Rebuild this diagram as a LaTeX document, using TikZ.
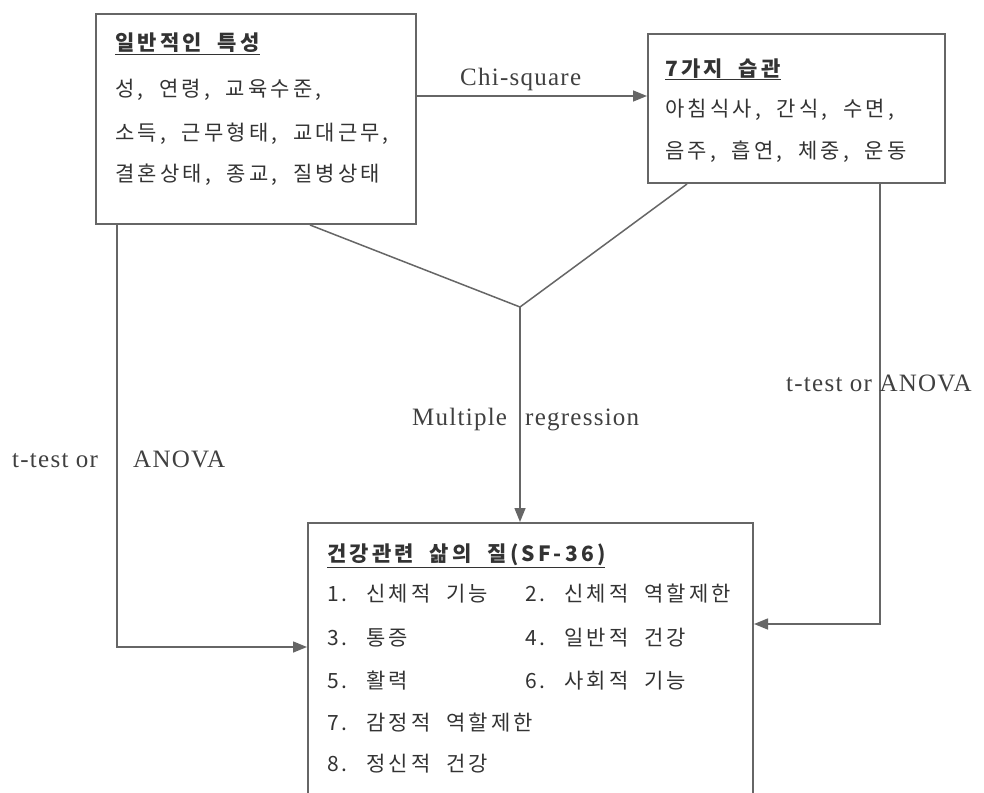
\documentclass[tikz,border=0pt]{standalone}
\usepackage{fontspec}
\setmainfont{Liberation Serif}[LetterSpace=5]
\newfontfamily\kr{Noto Sans CJK KR}[LetterSpace=15,WordSpace=2]
\usetikzlibrary{arrows.meta}
\begin{document}
\begin{tikzpicture}[x=1pt,y=-1pt,
  box/.style={draw=black!60,line width=2pt,anchor=north west,inner sep=0pt},
  conn/.style={draw=black!60,line width=1.5pt},
  arr/.style={conn,-{Triangle[length=14pt,width=11pt]}},
  kt/.style={anchor=base west,inner sep=0pt,font=\kr\fontsize{21}{21}\selectfont,text=black!80},
  kb/.style={kt,font=\kr\bfseries\fontsize{21}{21}\selectfont},
  lt/.style={anchor=base west,inner sep=0pt,font=\fontsize{25}{25}\selectfont,text=black!75}]
\useasboundingbox (0,0) rectangle (984,792);
\fill[white] (0,0) rectangle (984,792);
% boxes
\node[box,minimum width=320pt,minimum height=210pt] (b1) at (95,13) {};
\node[box,minimum width=297pt,minimum height=149pt] (b2) at (647,33) {};
\begin{scope}
\clip (0,0) rectangle (984,792);
\node[box,minimum width=445pt,minimum height=300pt] (b3) at (307,522) {};
\end{scope}
% helper coordinates
\coordinate (chi) at (0,96);
\coordinate (j) at (520,307);
\coordinate (c1) at (0,647);
\coordinate (c2) at (0,624);
% connectors
\draw[arr] (b1.east |- chi) -- (b2.west |- chi);
\draw[conn] ([xshift=215pt]b1.south west) -- (j) -- ([xshift=40pt]b2.south west);
\draw[arr] (j) -- (b3.north -| j);
\draw[arr] ([xshift=22pt]b1.south west) |- (b3.west |- c1);
\draw[arr] ([xshift=233pt]b2.south west) |- (b3.east |- c2);
% box 1 text
\node[kb] (t10) at (115,51) {\underline{일반적인 특성}};
\node[kt] (t11) at (115,96) {성, 연령, 교육수준,};
\node[kt] (t12) at (115,140) {소득, 근무형태, 교대근무,};
\node[kt] (t13) at (115,181) {결혼상태, 종교, 질병상태};
% box 2 text
\node[kb] (t20) at (665,76) {\underline{7가지 습관}};
\node[kt] (t21) at (665,116) {아침식사, 간식, 수면,};
\node[kt] (t22) at (665,158) {음주, 흡연, 체중, 운동};
% box 3 text
\node[kb] (t30) at (327,561) {\underline{건강관련 삶의 질(SF-36)}};
\node[kt] (t31) at (327,601) {1. 신체적 기능};
\node[kt] (t32) at (525,601) {2. 신체적 역할제한};
\node[kt] (t33) at (327,645) {3. 통증};
\node[kt] (t34) at (525,645) {4. 일반적 건강};
\node[kt] (t35) at (327,688) {5. 활력};
\node[kt] (t36) at (525,688) {6. 사회적 기능};
\node[kt] (t37) at (327,730) {7. 감정적 역할제한};
\node[kt] (t38) at (327,771) {8. 정신적 건강};
% labels
\node[lt] (l1) at (460,85) {Chi-square};
\node[lt] (l2) at (412,425) {Multiple};
\node[lt] (l3) at (525,425) {regression};
\node[lt] (l4) at (12,467) {t-test or};
\node[lt] (l5) at (133,467) {ANOVA};
\node[lt] (l6) at (786,391) {t-test or ANOVA};
\end{tikzpicture}
\end{document}
